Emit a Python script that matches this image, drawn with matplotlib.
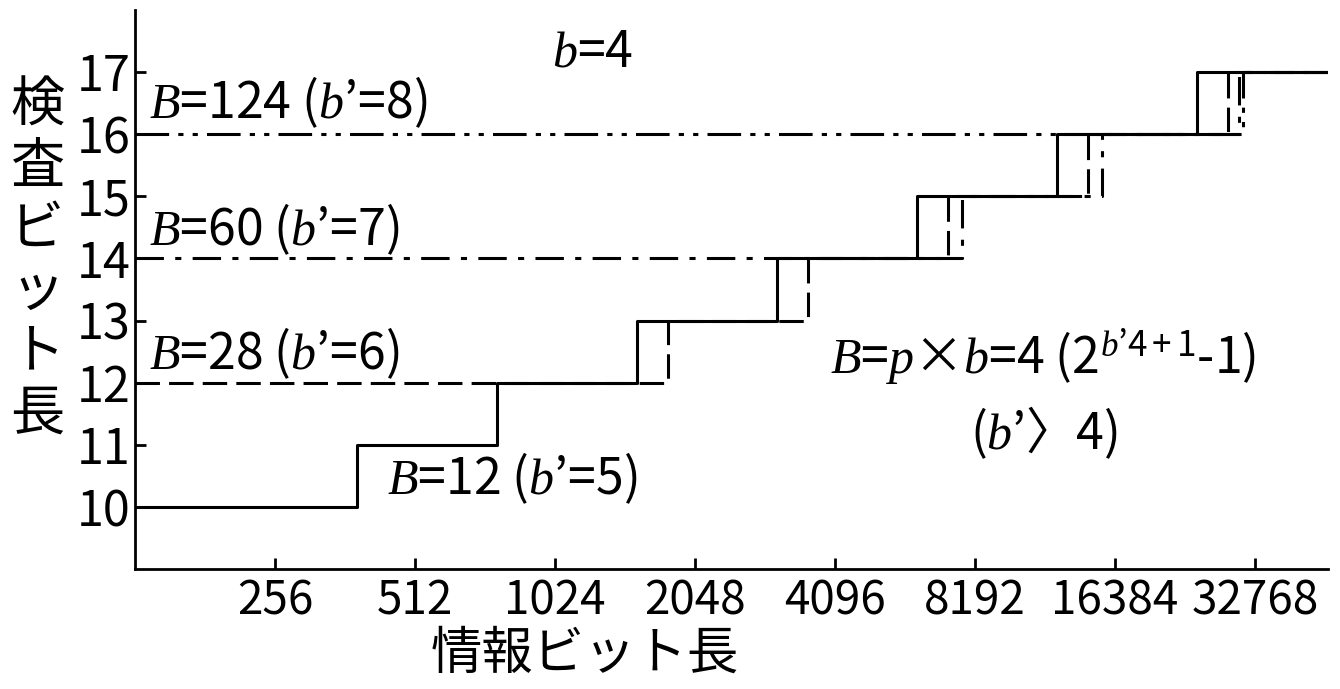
import numpy as np
import matplotlib
matplotlib.use("Agg")
import matplotlib.pyplot as plt

plt.rcParams['font.family'] = ['Noto Sans CJK JP', 'DejaVu Sans']
plt.rcParams['mathtext.fontset'] = 'custom'
plt.rcParams['mathtext.it'] = 'Liberation Serif:italic'
plt.rcParams['mathtext.rm'] = 'Noto Sans CJK JP'

# info-bit lengths at which the check-bit length goes up by one
x_end = 47000
b12_start, b12_steps = 10, [384, 768, 1536, 3072, 6144, 12288, 24576]
b28_start, b28_steps = 12, [1792, 3584, 7168, 14336, 28672]
b60_start, b60_steps = 14, [7680, 15360, 30300]
b124_start, b124_steps = 16, [30900]

xticks = [256, 512, 1024, 2048, 4096, 8192, 16384, 32768]
yticks = [10, 11, 12, 13, 14, 15, 16, 17]


def staircase(start, steps):
    xs = [128] + steps + [x_end]
    ys = [start + i for i in range(len(steps) + 1)]
    ys = ys + [ys[-1]]
    return xs, ys


fig = plt.figure(figsize=(13.4, 6.89), dpi=100)
ax = fig.add_axes([0.1007, 0.174, 0.8903, 0.8115])

lw = 2.2
styles = [
    (b124_start, b124_steps, (0, (11, 3, 1.7, 3, 1.7, 3))),
    (b60_start, b60_steps, (0, (9.3, 3.7, 2, 3.7))),
    (b28_start, b28_steps, (0, (8, 3))),
    (b12_start, b12_steps, '-'),
]
for start, steps, ls in styles:
    xs, ys = staircase(start, steps)
    ax.step(xs, ys, where='post', color='black', lw=lw, linestyle=ls)

ax.set_xscale('log', base=2)
ax.set_xlim(128, x_end)
ax.set_ylim(9, 18)
ax.set_xticks(xticks)
ax.set_xticklabels([str(v) for v in xticks])
ax.set_yticks(yticks)
ax.minorticks_off()
ax.tick_params(direction='in', length=8, width=2, labelsize=33)
ax.tick_params(axis='y', labelsize=35, pad=3)
ax.tick_params(axis='x', pad=6)
for side in ['top', 'right']:
    ax.spines[side].set_visible(False)
for side in ['left', 'bottom']:
    ax.spines[side].set_linewidth(2)

fs = 36
ax.text(1010, 17.32, r'$b$=4', fontsize=fs, va='center')
ax.text(137, 16.52, r'$B$=124 ($b$’=8)', fontsize=fs, va='center')
ax.text(137, 14.47, r'$B$=60 ($b$’=7)', fontsize=fs, va='center')
ax.text(137, 12.48, r'$B$=28 ($b$’=6)', fontsize=fs, va='center')
ax.text(445, 10.46, r'$B$=12 ($b$’=5)', fontsize=fs, va='center')
ax.text(4000, 12.42, r'$B$=$p$×$b$=4 (2$^{b’4+1}$-1)', fontsize=fs, va='center')
ax.text(8000, 11.2, r'($b$’〉4)', fontsize=fs, va='center')

fig.text(585 / 1340, 1 - 654 / 689, '情報ビット長', fontsize=37,
         ha='center', va='center')
fig.text(37 / 1340, 1 - 260 / 689, '\n'.join('検査ビット長'), fontsize=39,
         ha='center', va='center', linespacing=1.15)

fig.savefig('out.png', dpi=100)
